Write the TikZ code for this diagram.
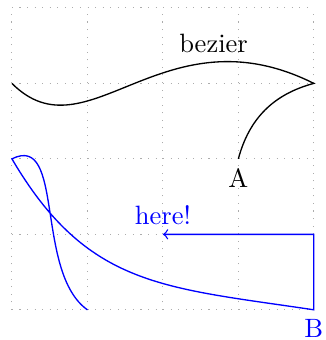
\documentclass[tikz,border=0pt]{standalone}
\begin{document}
\begin{tikzpicture}
\tikzset{
  gridline/.style={gray!65, line width=0.4pt, dash pattern=on 0.4pt off 2.45pt},
  curveline/.style={line width=0.5pt},
  bluepath/.style={blue, line width=0.5pt, ->},
  lbl/.style={inner sep=3.33pt},
  tightlbl/.style={inner sep=0pt, anchor=north, yshift=-3.33pt}
}
\useasboundingbox (-0.158,-0.40) rectangle (4.149,4.105);
\draw[gridline] (0,0) grid (4,4);
% black curve
\coordinate (s0) at (0,3);
\coordinate (s1) at (4,3);
\coordinate (s2) at (3,2);
\draw[curveline] (s0) .. controls (1,2) and (2,4) .. node[lbl, near end, above] (bz) {bezier} (s1)
  to[bend right] (s2);
\node[lbl, below] (A) at (s2) {A};
% blue path
\coordinate (b0) at (1,0);
\coordinate (b1) at (0,2);
\coordinate (b2) at (4,0);
\coordinate (b3) at (4,1);
\coordinate (b4) at (2,1);
\draw[bluepath] (b0) .. controls (0.3,0.5) and (0.7,2.35) .. (b1)
  .. controls (1,0.3) and (2,0.3) .. (b2) -- (b3) -- (b4);
\node[tightlbl, blue] (B) at (b2) {B};
\node[lbl, above, blue] (here) at (b4) {here!};
\end{tikzpicture}
\end{document}
